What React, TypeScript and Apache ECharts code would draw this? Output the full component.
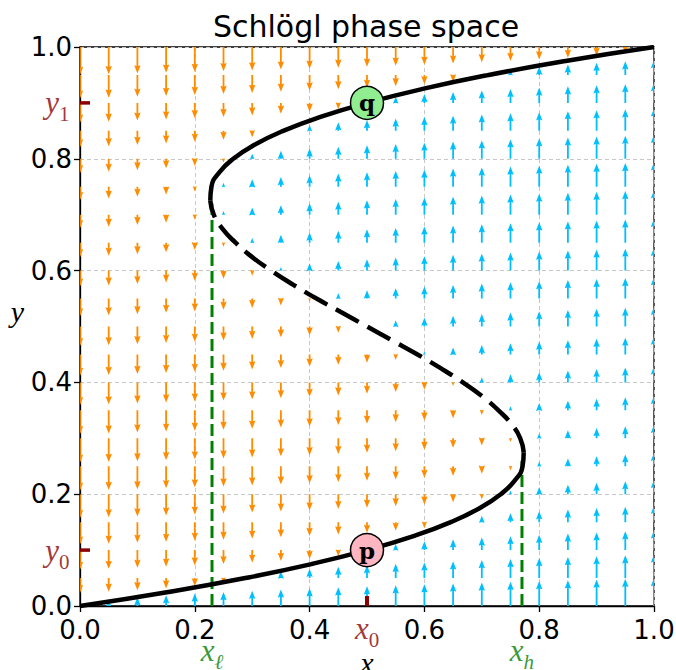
import React, { useEffect, useRef } from 'react';
import * as echarts from 'echarts';

// Quiver grid (arrow tails)
const quiverX = [0, 0.05, 0.1, 0.15, 0.2, 0.25, 0.3, 0.35, 0.4, 0.45, 0.5, 0.55, 0.6, 0.65, 0.7, 0.75, 0.8, 0.85, 0.9, 0.95, 1];
const quiverY = [0, 0.05, 0.1, 0.15, 0.2, 0.25, 0.3, 0.35, 0.4, 0.45, 0.5, 0.55, 0.6, 0.65, 0.7, 0.75, 0.8, 0.85, 0.9, 0.95, 1];

// S-shaped nullcline (x at each y)
const curveY = [0, 0.025, 0.05, 0.075, 0.1, 0.125, 0.15, 0.175, 0.2, 0.225, 0.25, 0.275, 0.3, 0.325, 0.35, 0.375, 0.4, 0.425, 0.45, 0.475, 0.5, 0.525, 0.55, 0.575, 0.6, 0.625, 0.65, 0.675, 0.7, 0.725, 0.75, 0.775, 0.8, 0.825, 0.85, 0.875, 0.9, 0.925, 0.95, 0.975, 1];
const curveX = [0.0, 0.154, 0.288, 0.403, 0.5, 0.581, 0.646, 0.696, 0.733, 0.758, 0.771, 0.773, 0.767, 0.752, 0.729, 0.701, 0.667, 0.629, 0.588, 0.544, 0.5, 0.456, 0.412, 0.371, 0.333, 0.299, 0.271, 0.248, 0.233, 0.227, 0.229, 0.242, 0.267, 0.304, 0.354, 0.419, 0.5, 0.597, 0.712, 0.846, 1.0];
const lowerEnd = 11; // index where the lower stable branch ends
const upperStart = 29; // index where the upper stable branch starts

// Fold lines
const xLow = 0.23;
const xLowTop = 0.72;
const xHigh = 0.77;
const xHighTop = 0.26;

// Marked points
const pPoint = [0.5, 0.1];
const qPoint = [0.5, 0.9];
const x0 = 0.5;
const y0 = 0.1;
const y1 = 0.9;

const ORANGE = '#ff8c00';
const BLUE = '#00bfff';
const DARKRED = '#8b0000';
const GREEN = '#008000';

function buildQuiver() {
  const out: number[][] = [];
  for (let j = 0; j < quiverY.length; j++) {
    const cx = curveX[j * 2];
    for (let i = 0; i < quiverX.length; i++) {
      const v = quiverX[i] - cx;
      if (Math.abs(v) < 1e-9) continue;
      const tip = quiverY[j] + 0.05 * Math.sign(v) * Math.sqrt(Math.abs(v));
      out.push([quiverX[i], quiverY[j], tip, v]);
    }
  }
  return out;
}

function seg(a: number, b: number) {
  const d: number[][] = [];
  for (let k = a; k <= b; k++) d.push([curveX[k], curveY[k]]);
  return d;
}

const mathFont = 'Liberation Serif';

function sub(color: string, italicSub: boolean) {
  return {
    v: { fontFamily: mathFont, fontStyle: 'italic', fontSize: 31, color, lineHeight: 44, verticalAlign: 'middle' },
    s: { fontFamily: mathFont, fontStyle: italicSub ? 'italic' : 'normal', fontSize: 21, color, lineHeight: 24, verticalAlign: 'bottom' },
  };
}

export default function App() {
  const ref = useRef<HTMLDivElement>(null);
  useEffect(() => {
    document.body.style.margin = '0';
    if (!ref.current) return;
    const chart = echarts.init(ref.current, undefined, { renderer: 'svg' });
    const axisCommon = {
      type: 'value',
      min: 0,
      max: 1,
      interval: 0.2,
      nameLocation: 'middle',
      axisLine: { show: true, lineStyle: { color: '#000', width: 1.3 } },
      axisTick: { show: true, length: 6, lineStyle: { color: '#000', width: 1.3 } },
      axisLabel: { formatter: (v: number) => v.toFixed(1), fontSize: 26, lineHeight: 20, color: '#000', fontFamily: 'DejaVu Sans' },
      splitLine: { show: true, lineStyle: { type: [4, 3], color: '#c8c8c8', width: 1 } },
    };
    const option: any = {
      animation: false,
      title: {
        text: 'Schlögl phase space',
        left: 361,
        textAlign: 'center',
        top: 6,
        textStyle: { fontFamily: 'DejaVu Sans', fontSize: 30, fontWeight: 'normal', color: '#000' },
      },
      grid: {
        left: 80,
        right: 22,
        top: 47,
        bottom: 64,
        outerBoundsMode: 'none',
        containLabel: false,
        show: true,
        borderColor: '#000',
        borderWidth: 1.3,
        backgroundColor: 'transparent',
      },
      xAxis: {
        ...axisCommon,
        name: 'x',
        nameGap: 39,
        nameTextStyle: { fontFamily: mathFont, fontStyle: 'italic', fontSize: 30, lineHeight: 30, color: '#000' },
        axisLabel: { ...axisCommon.axisLabel, margin: 14 },
      },
      yAxis: {
        ...axisCommon,
        name: 'y',
        nameGap: 56,
        nameRotate: 0,
        nameTextStyle: { fontFamily: mathFont, fontStyle: 'italic', fontSize: 30, lineHeight: 30, color: '#000', verticalAlign: 'bottom' },
        axisLabel: { ...axisCommon.axisLabel, margin: 8 },
      },
      series: [
        {
          type: 'custom',
          clip: true,
          z: 1,
          data: buildQuiver(),
          encode: { x: 0, y: 1 },
          renderItem: (params: any, api: any) => {
            const x = api.value(0);
            const y = api.value(1);
            const tipY = api.value(2);
            const v = api.value(3);
            const tail = api.coord([x, y]);
            const tip = api.coord([x, tipY]);
            const len = Math.abs(tail[1] - tip[1]);
            const dir = tip[1] < tail[1] ? -1 : 1;
            const sw = 1.8, hw = 6.4, hl = 8.2, hal = 7.4;
            let s = 1;
            let shaft = len - hal;
            if (len < hal) {
              s = len / hal;
              shaft = 0;
            }
            const cx = tail[0];
            const ty = tail[1];
            const pt = (dx: number, d: number) => [cx + dx, ty + dir * d];
            const points = [
              pt((-sw * s) / 2, 0),
              pt((-sw * s) / 2, shaft),
              pt((-hw * s) / 2, len - hl * s),
              pt(0, len),
              pt((hw * s) / 2, len - hl * s),
              pt((sw * s) / 2, shaft),
              pt((sw * s) / 2, 0),
            ];
            return { type: 'polygon', shape: { points }, style: { fill: v > 0 ? BLUE : ORANGE } };
          },
        },
        {
          type: 'line',
          z: 3,
          symbol: 'none',
          data: [[xLow, 0], [xLow, xLowTop]],
          lineStyle: { color: GREEN, width: 3, type: [12, 5] },
        },
        {
          type: 'line',
          z: 3,
          symbol: 'none',
          data: [[xHigh, 0], [xHigh, xHighTop]],
          lineStyle: { color: GREEN, width: 3, type: [12, 5] },
        },
        {
          type: 'line',
          z: 4,
          symbol: 'none',
          smooth: true,
          data: seg(0, lowerEnd),
          lineStyle: { color: '#000', width: 4.5 },
        },
        {
          type: 'line',
          z: 4,
          symbol: 'none',
          smooth: true,
          data: seg(lowerEnd, upperStart),
          lineStyle: { color: '#000', width: 4.5, type: [26, 10] },
        },
        {
          type: 'line',
          z: 4,
          symbol: 'none',
          smooth: true,
          data: seg(upperStart, curveX.length - 1),
          lineStyle: { color: '#000', width: 4.5 },
        },
        {
          type: 'scatter',
          z: 5,
          clip: false,
          symbol: 'rect',
          itemStyle: { color: DARKRED, opacity: 1 },
          data: [
            { value: [0, y1], symbolSize: [10, 3.5], symbolOffset: [5, 0] },
            { value: [0, y0], symbolSize: [10, 3.5], symbolOffset: [5, 0] },
            { value: [x0, 0], symbolSize: [4, 10], symbolOffset: [0, -5] },
          ],
        },
        {
          type: 'scatter',
          z: 5,
          clip: false,
          symbolSize: 1,
          itemStyle: { color: 'rgba(0,0,0,0)' },
          data: [
            { value: [0, y1], label: { show: true, position: 'left', distance: 10, formatter: '{v|y}{s|1}', rich: sub(DARKRED, false) } },
            { value: [0, y0], label: { show: true, position: 'left', distance: 10, formatter: '{v|y}{s|0}', rich: sub(DARKRED, false) } },
            { value: [x0, 0], label: { show: true, position: 'bottom', distance: 0, formatter: '{v|x}{s|0}', rich: sub(DARKRED, false) } },
            { value: [xLow, 0], label: { show: true, position: 'bottom', distance: 22, formatter: '{v|x}{s|ℓ}', rich: sub(GREEN, true) } },
            { value: [xHigh, 0], label: { show: true, position: 'bottom', distance: 22, formatter: '{v|x}{s|h}', rich: sub(GREEN, true) } },
          ],
        },
        {
          type: 'scatter',
          z: 6,
          clip: false,
          symbol: 'circle',
          symbolSize: 33,
          data: [
            { value: pPoint, name: 'p', itemStyle: { color: '#ffb6c1', borderColor: '#000', borderWidth: 1.5, opacity: 1 } },
            { value: qPoint, name: 'q', itemStyle: { color: '#90ee90', borderColor: '#000', borderWidth: 1.5, opacity: 1 } },
          ],
          label: {
            show: true,
            position: 'inside',
            formatter: (p: any) => p.name,
            fontFamily: 'DejaVu Serif',
            fontWeight: 'bold',
            fontSize: 23,
            color: '#000',
            padding: [0, 0, 4, 0],
          },
        },
      ],
    };
    chart.setOption(option);
    return () => chart.dispose();
  }, []);
  return <div ref={ref} style={{ width: 676, height: 670 }} />;
}
